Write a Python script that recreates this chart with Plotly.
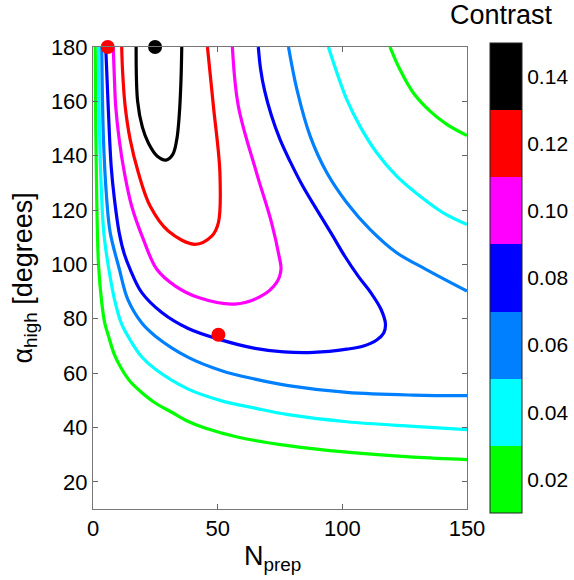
import plotly.graph_objects as go

# ---- data (N_prep, alpha_high) ----
levels = [0.02, 0.04, 0.06, 0.08, 0.10, 0.12, 0.14]
level_colors = ["#00ff00", "#00ffff", "#0080ff", "#0000ff", "#ff00ff", "#ff0000", "#000000"]
cbar_ticks = ["0.02", "0.04", "0.06", "0.08", "0.10", "0.12", "0.14"]

green_lo_x = [0.9, 1.1, 1.5, 2.2, 3.5, 4.7, 6.2, 8.5, 11.5, 15, 19.5, 25, 31.6, 38, 44.9, 58.3, 78.3, 101.8, 128.5, 150]
green_lo_y = [180, 150, 124, 100, 86, 78.5, 73.7, 67, 61.5, 56.8, 52.9, 49, 45.6, 42.3, 39.8, 36.4, 33.3, 30.9, 29.1, 28.2]
green_up_x = [119.1, 123.1, 128.5, 135.2, 141.9, 150]
green_up_y = [180, 171.7, 163.1, 156.4, 151.5, 147.4]

cyan_lo_x = [2.2, 2.7, 3.5, 4.4, 6.3, 8.9, 11.5, 15.5, 19.5, 24.9, 38.2, 51.6, 65, 78.3, 101.8, 128.5, 150]
cyan_lo_y = [180, 146, 124, 111, 98.5, 86, 78, 71.3, 66, 61.5, 54.1, 49.8, 47.1, 44.7, 42.1, 40.4, 39.2]
cyan_up_x = [94.4, 101.8, 107.1, 113.8, 121.8, 131.2, 140.5, 150]
cyan_up_y = [180, 160.6, 150.8, 141.1, 132.5, 125.1, 119, 114.7]

lblue_lo_x = [3.5, 4.2, 5.5, 6.9, 10.5, 14, 19.5, 24.9, 38.2, 51.6, 65, 78.3, 101.8, 128.5, 150]
lblue_lo_y = [180, 146, 124, 111.7, 98.5, 87, 78.5, 73.7, 65.8, 60.9, 57.8, 55.4, 52.9, 51.9, 51.7]
lblue_up_x = [78.4, 81.8, 87.1, 93.8, 101.8, 111.1, 121.8, 133.5, 150]
lblue_up_y = [180, 164.3, 147.2, 133.7, 122.7, 112.9, 104.3, 98.2, 90.2]

blue_x = [5.1, 6.1, 7.3, 8.6, 10.5, 12.5, 14.9, 19.5, 27.6, 38.2, 50.3, 65, 76.5, 88.4, 101.8, 108.5,
          113.8, 116.6, 117.3, 115.5, 111.5, 106.5, 101, 95.5, 89.5, 84, 79, 75, 71.5, 68.8, 67.2, 66.3]
blue_y = [180, 158, 136, 124, 111.7, 104, 98.2, 89.7, 82.3, 76.4, 72.5, 69.1, 67.8, 67.6, 68.8, 70,
          72.2, 74.8, 78, 83.5, 89.5, 95.5, 103, 111.5, 120.5, 129, 138, 146, 155, 164, 172, 180]

magenta_x = [8.1, 8.5, 9.1, 10.5, 12.6, 15.5, 20.2, 25.6, 32.9, 42.3, 56.9, 67.6, 73.6, 75.4,
             74.6, 71.6, 65.6, 58.3, 55.9]
magenta_y = [180, 170.5, 158.2, 146, 133.7, 121.5, 109.2, 98.2, 92.1, 87.8, 85.4, 88.4, 93.3, 98.2,
             103.2, 115.4, 133.7, 158.2, 180]

red_x = [11.5, 11.9, 12.9, 14.9, 18.2, 22.9, 30.2, 40.9, 47.6, 50.3, 50.9, 48.3, 45.9]
red_y = [180, 170.5, 158.2, 146, 133.7, 121.5, 112.3, 107.4, 110.4, 115.4, 133.7, 158.2, 180]

black_x = [17.3, 17.9, 19.8, 22.3, 25.8, 29.3, 32.0, 33.6, 34.6, 35.3, 35.6]
black_y = [180, 160, 150.5, 144.5, 139.8, 138.4, 140.5, 146, 155, 168, 180]

dot_x = [5.9, 24.9, 50.3]
dot_y = [180, 180, 74.1]
dot_colors = ["#ff0000", "#000000", "#ff0000"]

x_ticks = [0, 50, 100, 150]
y_ticks = [20, 40, 60, 80, 100, 120, 140, 160, 180]

curves = [
    (green_lo_x, green_lo_y, 0), (green_up_x, green_up_y, 0),
    (cyan_lo_x, cyan_lo_y, 1), (cyan_up_x, cyan_up_y, 1),
    (lblue_lo_x, lblue_lo_y, 2), (lblue_up_x, lblue_up_y, 2),
    (blue_x, blue_y, 3), (magenta_x, magenta_y, 4),
    (red_x, red_y, 5), (black_x, black_y, 6),
]

FONT = "Liberation Sans, Arial, Helvetica, sans-serif"
fig = go.Figure()
for xs, ys, k in curves:
    fig.add_trace(go.Scatter(x=xs, y=ys, mode="lines",
                             line=dict(color=level_colors[k], width=3.2, shape="spline", smoothing=1.0),
                             showlegend=False, hoverinfo="skip"))

fig.add_trace(go.Scatter(x=dot_x, y=dot_y, mode="markers",
                         marker=dict(color=dot_colors, size=14, line=dict(width=0)),
                         cliponaxis=False, showlegend=False))

# discrete colour bar
n = len(levels)
cscale = []
for i, c in enumerate(level_colors):
    cscale.append([i / n, c])
    cscale.append([(i + 1) / n, c])

PL, PR, PT, PB = 92.5, 467.0, 47.3, 509.5
W, H = 574, 580
pw, ph = PR - PL, PB - PT

fig.add_trace(go.Scatter(x=[None], y=[None], mode="markers", showlegend=False,
                         marker=dict(color=[levels[0]], colorscale=cscale, cmin=0.01, cmax=0.15,
                                     showscale=True,
                                     colorbar=dict(tickvals=levels, ticktext=cbar_ticks, ticks="",
                                                   thickness=32, lenmode="pixels", len=470,
                                                   x=(490 - PL) / pw, xanchor="left", xpad=0, ypad=0,
                                                   y=0.5, yanchor="middle",
                                                   outlinewidth=1, outlinecolor="#222",
                                                   tickfont=dict(size=21, color="black", family=FONT)))))

axis_common = dict(showgrid=False, zeroline=False, showline=True, mirror="ticks",
                   linecolor="#777", linewidth=1, ticks="inside", ticklen=5, tickcolor="#666",
                   tickfont=dict(size=22, color="black", family=FONT))
fig.update_xaxes(range=[0, 150], tickvals=x_ticks, **axis_common)
fig.update_yaxes(range=[10, 180], tickvals=y_ticks, **axis_common)

fig.update_layout(
    width=W, height=H,
    margin=dict(l=PL, r=W - PR, t=PT, b=H - PB, autoexpand=False),
    paper_bgcolor="white", plot_bgcolor="white",
    font=dict(family=FONT, color="black"),
    annotations=[
        dict(text="N<sub>prep</sub>", xref="paper", yref="paper", x=(272 - PL) / pw, y=-(559 - PB) / ph,
             xanchor="center", yanchor="middle", showarrow=False, font=dict(size=27)),
        dict(text="α<sub>high</sub> [degrees]", xref="paper", yref="paper", x=(24 - PL) / pw, y=0.5,
             xanchor="center", yanchor="middle", textangle=-90, showarrow=False, font=dict(size=27)),
        dict(text="Contrast", xref="paper", yref="paper", x=(501.7 - PL) / pw, y=1 + (PT - 15) / ph,
             xanchor="center", yanchor="middle", showarrow=False, font=dict(size=27)),
    ],
)

fig.write_html("out.html", config={"displayModeBar": False},
               post_script="document.body.style.margin='0px';")
